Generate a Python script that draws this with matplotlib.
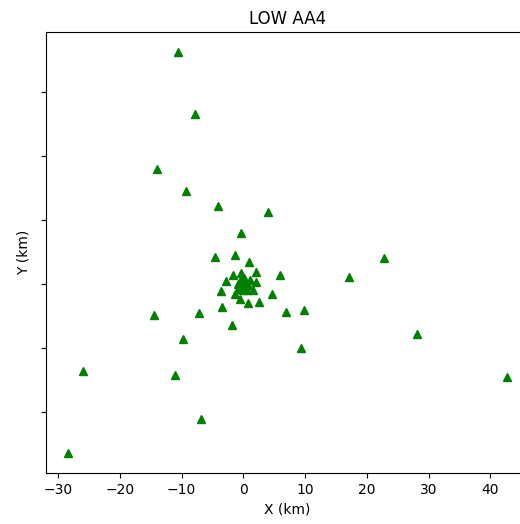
import matplotlib
matplotlib.use("Agg")
import matplotlib.pyplot as plt

# station positions (km)
x_km = [-10.6, -7.9, -14.0, -9.3, -4.1, 4.0, -0.4, -4.6, 22.8, 17.1, 5.9,
        -14.5, -7.2, 6.9, 9.8, 4.6, 2.5, -1.9, -9.8, 28.1, 9.3, -25.9,
        -11.1, 42.7, -6.9, -28.4,
        -1.3, 0.9, -1.6, -0.35, 2.0, -2.8, 2.1, -3.6, 1.6, -1.4, -0.6, 0.7, -3.5,
        0.0, 0.5, -0.5, 0.3, -0.4, 0.8, -0.8, 0.1, 0.0, 1.0, -0.9, 0.6]
y_km = [36.25, 26.6, 18.0, 14.5, 12.2, 11.25, 8.0, 4.2, 4.1, 1.1, 1.4,
        -4.8, -4.5, -4.4, -4.1, -1.6, -2.8, -6.4, -8.6, -7.8, -10.0, -13.6,
        -14.2, -14.5, -21.1, -26.4,
        4.5, 3.4, 1.4, 1.7, 1.8, 0.5, 0.3, -1.1, -0.9, -1.5, -2.3, -2.9, -3.6,
        0.0, 0.3, 0.4, -0.5, -0.4, -0.1, 0.0, 0.9, -1.0, 0.6, -0.8, -1.0]

fig = plt.figure(figsize=(5.2, 5.24), dpi=100)
ax = fig.add_axes([46 / 520, 51 / 524, 483 / 520, 441 / 524])
ax.plot(x_km, y_km, 'g^', markersize=5.5)
ax.set_title('LOW AA4')
ax.set_xlabel('X (km)')
ax.set_ylabel('Y (km)')
ax.set_yticklabels([])
fig.savefig('out.png', dpi=100)
